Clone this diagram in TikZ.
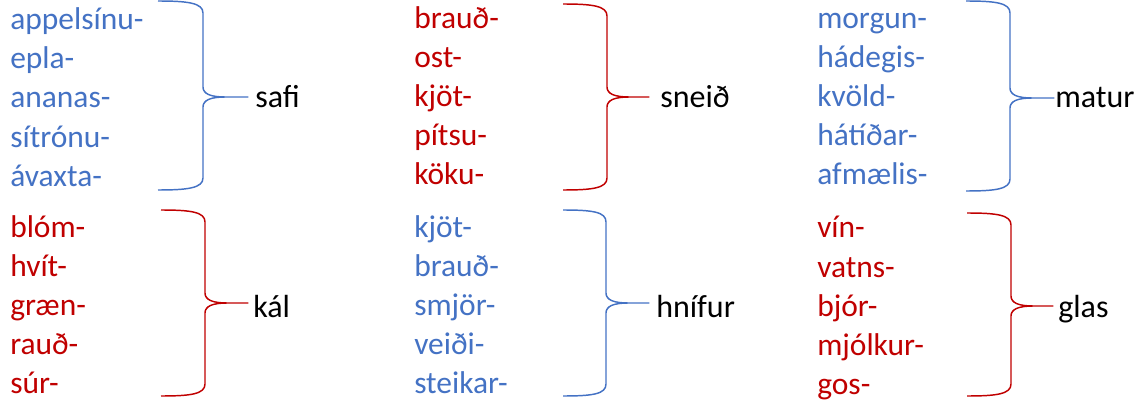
\documentclass[tikz,border=0pt]{standalone}
\usepackage{fontspec}
\setmainfont{Carlito}
\definecolor{wordblue}{HTML}{4472C4}
\definecolor{wordred}{HTML}{C00000}
\tikzset{
  word/.style={anchor=base west,inner sep=0pt,font=\fontsize{23.6}{28}\selectfont},
  stem/.style={anchor=base west,inner sep=0pt,font=\fontsize{24}{28}\selectfont,text=black},
  brace/.style={line width=1.1pt,line join=round}
}
\begin{document}
\begin{tikzpicture}[x=0.75pt,y=-0.75pt]
  \useasboundingbox (0,0) rectangle (1140,403);
  % word columns, braces and the common ending
  \foreach \gx/\gy/\bx/\vx/\tx/\yt/\yb/\ym/\lx/\ly/\nm/\lab/\col/\words in {
      10/30/158/203/248/1/190/97/255/108/safi/safi/wordblue/{appelsínu-,epla-,ananas-,sítrónu-,ávaxta-},
      10/237/161/205/248/210/396/303/253/317/kal/kál/wordred/{blóm-,hvít-,græn-,rauð-,súr-},
      414/29/563/607/649/4/190/97/660/108/sneid/sneið/wordred/{brauð-,ost-,kjöt-,pítsu-,köku-},
      414/237/563/606/649/210/396/303/656/317/hnifur/hnífur/wordblue/{kjöt-,brauð-,smjör-,veiði-,steikar-},
      817/29/966/1010/1054/1/191/98/1055/108/matur/matur/wordblue/{morgun-,hádegis-,kvöld-,hátíðar-,afmælis-},
      817/238/967/1011/1053/213/396/306/1058/317/glas/glas/wordred/{vín-,vatns-,bjór-,mjólkur-,gos-}} {
    \foreach \w [count=\i from 0] in \words {
      \node[word,text=\col] (\nm-\i) at (\gx,{\gy+39*\i}) {\w};
    }
    \coordinate (\nm-tip) at (\tx,\ym);
    \node[stem] (\nm) at (\lx,\ly) {\lab};
    \draw[brace,\col] (\bx,\yt) .. controls ({\bx+30},\yt) and (\vx,{\yt+2}) .. (\vx,{\yt+12})
      -- (\vx,{\ym-10}) .. controls (\vx,{\ym-3}) and ({\vx+8},\ym) .. ({\vx+22},\ym) -- (\nm-tip)
      -- ({\vx+22},\ym) .. controls ({\vx+8},\ym) and (\vx,{\ym+3}) .. (\vx,{\ym+10})
      -- (\vx,{\yb-12}) .. controls (\vx,{\yb-2}) and ({\bx+30},\yb) .. (\bx,\yb);
  }
\end{tikzpicture}
\end{document}
